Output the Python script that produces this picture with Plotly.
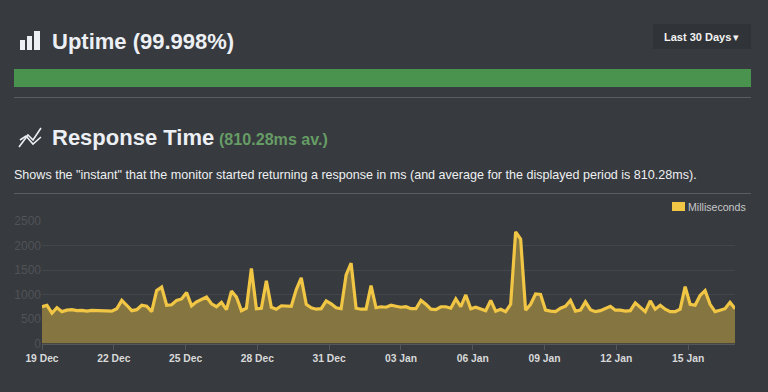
import pandas as pd
import plotly.graph_objects as go

W, H = 768, 392
BG = "#373a3e"

start_time = "2019-12-19 00:00"
sample_hours = 5
response_ms = [
    750, 780, 620, 730, 650, 680, 690, 670, 675, 660, 675, 670, 680, 670, 660, 710, 880, 780, 670, 690,
    780, 760, 650, 1080, 1150, 780, 790, 880, 910, 1040, 770, 850, 900, 950, 810, 750, 840, 690, 1070, 950,
    670, 720, 1530, 710, 720, 1280, 740, 700, 770, 770, 760, 1100, 1340, 800, 730, 700, 710, 870, 810, 730,
    710, 1400, 1640, 720, 700, 700, 1180, 730, 750, 740, 780, 760, 740, 750, 710, 710, 880, 800, 700, 690,
    750, 750, 720, 910, 750, 990, 710, 740, 700, 670, 880, 660, 700, 650, 800, 2280, 2130, 680, 800, 1010,
    1000, 680, 660, 650, 720, 760, 880, 660, 680, 850, 690, 650, 670, 720, 760, 680, 680, 660, 670, 830,
    740, 650, 870, 700, 780, 700, 650, 650, 700, 1160, 800, 780, 980, 1080, 800, 650, 680, 710, 840, 710,
]
tick_dates = ["2019-12-19", "2019-12-22", "2019-12-25", "2019-12-28", "2019-12-31",
              "2020-01-03", "2020-01-06", "2020-01-09", "2020-01-12", "2020-01-15"]
tick_labels = ["19 Dec", "22 Dec", "25 Dec", "28 Dec", "31 Dec",
               "03 Jan", "06 Jan", "09 Jan", "12 Jan", "15 Jan"]
y_ticks = [0, 500, 1000, 1500, 2000, 2500]
uptime_pct = 99.998
uptime_label = "Uptime (99.998%)"
response_title = "Response Time"
average_label = "(810.28ms av.)"
description = 'Shows the "instant" that the monitor started returning a response in ms (and average for the displayed period is 810.28ms).'
series_name = "Milliseconds"
range_label = "Last 30 Days"

times = pd.date_range(start_time, periods=len(response_ms), freq=f"{sample_hours}h")


def px(x):
    return x / W


def py(y):
    return 1 - y / H


fig = go.Figure()
fig.add_trace(go.Scatter(
    x=times, y=response_ms, mode="lines", name=series_name,
    line=dict(color="#f1c644", width=3.2, shape="linear"),
    fill="tozeroy", fillcolor="#857540", hoverinfo="skip", showlegend=False,
))
fig.add_trace(go.Bar(
    x=[uptime_pct], y=[""], orientation="h", xaxis="x2", yaxis="y2",
    marker=dict(color="#4a934e", line=dict(width=0)), width=1, hoverinfo="skip", showlegend=False,
))

shapes = []


def rect(x0, y0, x1, y1, color):
    shapes.append(dict(type="rect", xref="paper", yref="paper", x0=px(x0), x1=px(x1),
                       y0=py(y0), y1=py(y1), fillcolor=color, line=dict(width=0), layer="below"))


def hline(x0, x1, y, color):
    shapes.append(dict(type="line", xref="paper", yref="paper", x0=px(x0), x1=px(x1),
                       y0=py(y), y1=py(y), line=dict(color=color, width=1), layer="below"))


hline(14, 751, 97.5, "#595c5f")
hline(14, 751, 193.5, "#595c5f")
rect(653, 24, 751, 49, "#303337")
# uptime icon
rect(20, 40, 25, 50, "#eceff3")
rect(27, 36, 32, 50, "#eceff3")
rect(34, 31, 40, 50, "#eceff3")
# legend swatch
rect(672, 202, 685, 211, "#f1c644")
# response icon
for pts in (
    [(19, 147), (28, 135), (33, 140), (41, 128)],
    [(20, 140), (26, 136), (33, 144), (41, 137)],
):
    path = "M " + " L ".join(f"{px(a)},{py(b)}" for a, b in pts)
    shapes.append(dict(type="path", xref="paper", yref="paper", path=path,
                       line=dict(color="#eceff3", width=1.6), fillcolor="rgba(0,0,0,0)"))

annotations = []


def label(x, y, text, size, color, bold=False, anchor="left"):
    annotations.append(dict(
        xref="paper", yref="paper", x=px(x), y=py(y), text=f"<b>{text}</b>" if bold else text,
        showarrow=False, xanchor=anchor, yanchor="middle", xshift=0, yshift=0,
        font=dict(family="Liberation Sans, Arial, sans-serif", size=size, color=color), borderpad=0, borderwidth=0,
    ))


label(51.5, 42, uptime_label, 22, "#eceff3", True)
label(51.5, 137.5, response_title, 22, "#eceff3", True)
label(219, 139, average_label, 16.1, "#669c66", True)
label(14, 174.5, description, 12.55, "#eef0f2")
label(664, 36.5, range_label, 11, "#f2f2f2", True)
label(733, 36.5, "▾", 11, "#f2f2f2")
label(688, 206.5, series_name, 10.6, "#c6c8ca")

fig.update_layout(
    width=W, height=H, margin=dict(l=0, r=0, t=0, b=0, pad=0), autosize=False,
    paper_bgcolor=BG, plot_bgcolor=BG, showlegend=False,
    shapes=shapes, annotations=annotations,
    font=dict(family="Liberation Sans, Arial, sans-serif"),
    xaxis=dict(
        domain=[px(42), px(735)], range=[times[0], times[-1]], type="date", automargin=False,
        tickmode="array", tickvals=tick_dates, ticktext=[f"<b>{t}</b>" for t in tick_labels],
        tickfont=dict(size=10.3, color="#d8d9da"), ticks="outside", ticklen=5, tickcolor="#55585b", tickwidth=1,
        showgrid=False, zeroline=False, showline=True, linecolor="#55585b", linewidth=1, anchor="y",
    ),
    yaxis=dict(
        domain=[py(343.5), py(221)], range=[0, 2500], tickmode="array", tickvals=y_ticks, automargin=False,
        tickfont=dict(size=12, color="#505357"), ticks="", ticklen=0,
        showgrid=True, gridcolor="#43464a", gridwidth=1, zeroline=False, showline=False, anchor="x",
    ),
    xaxis2=dict(domain=[px(14), px(751)], range=[0, 100], visible=False, anchor="y2", automargin=False),
    yaxis2=dict(domain=[py(87), py(69)], visible=False, anchor="x2", automargin=False),
    bargap=0,
)

fig.write_html(
    "out.html",
    config={"displayModeBar": False},
    post_script="document.body.style.margin='0';document.body.style.overflow='hidden';document.body.style.background='%s';" % BG,
)
